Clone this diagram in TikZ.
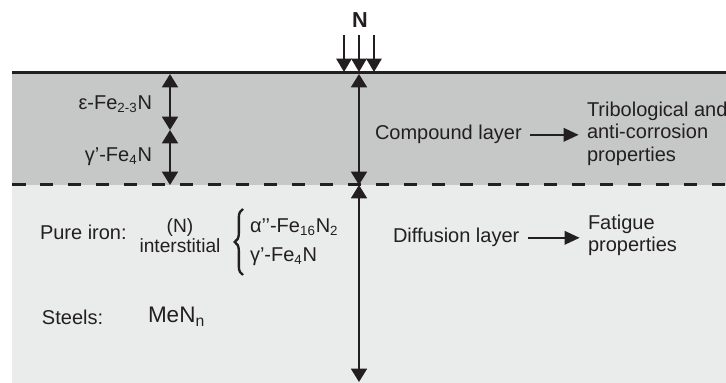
\documentclass[tikz,border=0pt]{standalone}
\usepackage{fontspec}
\setmainfont{Liberation Sans}
\usepackage{tikz}
\usepackage{xcolor}
\usetikzlibrary{arrows.meta,positioning,calc,decorations.pathreplacing}
\definecolor{compoundcolor}{RGB}{198,199,199}
\definecolor{diffusioncolor}{RGB}{234,235,235}
\definecolor{inkcolor}{RGB}{35,31,32}

\begin{document}
\begin{tikzpicture}[
    x=0.6pt, y=-0.6pt,
    txt/.style={
        inner sep=0pt, outer sep=0pt,
        align=left, text=inkcolor,
        font=\fontsize{12}{13.5}\selectfont
    },
    smalltxt/.style={txt, align=center, font=\fontsize{11.5}{12}\selectfont},
    arrow/.style={-{Triangle[length=9pt,width=8pt]}, line width=1.4pt, draw=inkcolor, shorten <=5pt, shorten >=5pt},
    downarrow/.style={-{Triangle[length=8pt,width=9pt]}, line width=1.6pt, draw=inkcolor},
    dblarrow/.style={{Triangle[length=8pt,width=9.5pt]}-{Triangle[length=8pt,width=9.5pt]}, line width=1.3pt, draw=inkcolor},
    surface/.style={line width=1.8pt, draw=inkcolor},
    boundary/.style={line width=1.8pt, draw=inkcolor, dash pattern=on 8.1pt off 8.7pt}
]
\useasboundingbox (0,0) rectangle (726,383);

% Layers
\fill[compoundcolor] (12,73) rectangle (726,185);
\fill[diffusioncolor] (12,185) rectangle (726,383);

\coordinate (surf_l) at (12,73);
\coordinate (surf_r) at (726,73);
\coordinate (bound_l) at (12,185);
\coordinate (bound_r) at (726,185);
\draw[surface] (surf_l) -- (surf_r);
\draw[boundary] (bound_l) -- (bound_r);

% Nitrogen flux
\node[txt, font=\fontsize{13}{14}\selectfont\bfseries] (nitrogen) at (360,20) {N};
\foreach \x in {344,359,374} {
    \coordinate (n_top\x) at (\x,35);
    \coordinate (n_tip\x) at (\x,72);
    \draw[downarrow] (n_top\x) -- (n_tip\x);
}

% Compound layer phases
\coordinate (eps_top) at (170,74);
\coordinate (eps_gam) at (170,130);
\coordinate (gam_bot) at (170,185);
\draw[dblarrow] (eps_top) -- (eps_gam);
\draw[dblarrow] (eps_gam) -- (gam_bot);
\node[txt, anchor=base east] (eps) at (152,110) {ε-Fe\textsubscript{2-3}N};
\node[txt, anchor=base east] (gamma) at (152,162) {γ’-Fe\textsubscript{4}N};

% Depth arrows
\coordinate (depth_top) at (359,74);
\coordinate (depth_mid) at (359,185);
\coordinate (depth_bot) at (359,382);
\draw[dblarrow] (depth_top) -- (depth_mid);
\draw[dblarrow] (depth_mid) -- (depth_bot);

% Compound layer
\node[txt, anchor=base west] (compound) at (375,140) {Compound layer};
\node[txt, anchor=north west] (tribo) at (587,102) {Tribological and\\anti-corrosion\\properties};
\draw[arrow] (compound.east) -- (compound.east -| tribo.west);

% Diffusion layer
\node[txt, anchor=base west] (diffusion) at (393,243) {Diffusion layer};
\node[txt, anchor=north west] (fatigue) at (588,215) {Fatigue\\properties};
\draw[arrow] (diffusion.east) -- (diffusion.east -| fatigue.west);

% Pure iron
\node[txt, anchor=base west] (pure) at (40,240) {Pure iron:};
\node[smalltxt, anchor=base] (nitro) at (180,233) {(N)};
\node[smalltxt, anchor=base] (inter) at (180,253) {interstitial};
\coordinate (brace_bot) at (243,275);
\coordinate (brace_top) at (243,209);
\draw[decorate, decoration={brace, amplitude=5pt}, line width=1.4pt, draw=inkcolor] (brace_bot) -- (brace_top);
\node[txt, anchor=base west] (alpha) at (250,233) {α’’-Fe\textsubscript{16}N\textsubscript{2}};
\node[txt, anchor=base west] (gamma2) at (250,262) {γ’-Fe\textsubscript{4}N};

% Steels
\node[txt, anchor=base west] (steels) at (42,325) {Steels:};
\node[txt, anchor=base west, font=\fontsize{13.5}{15}\selectfont] (men) at (148,323) {MeN\textsubscript{n}};

\end{tikzpicture}
\end{document}
